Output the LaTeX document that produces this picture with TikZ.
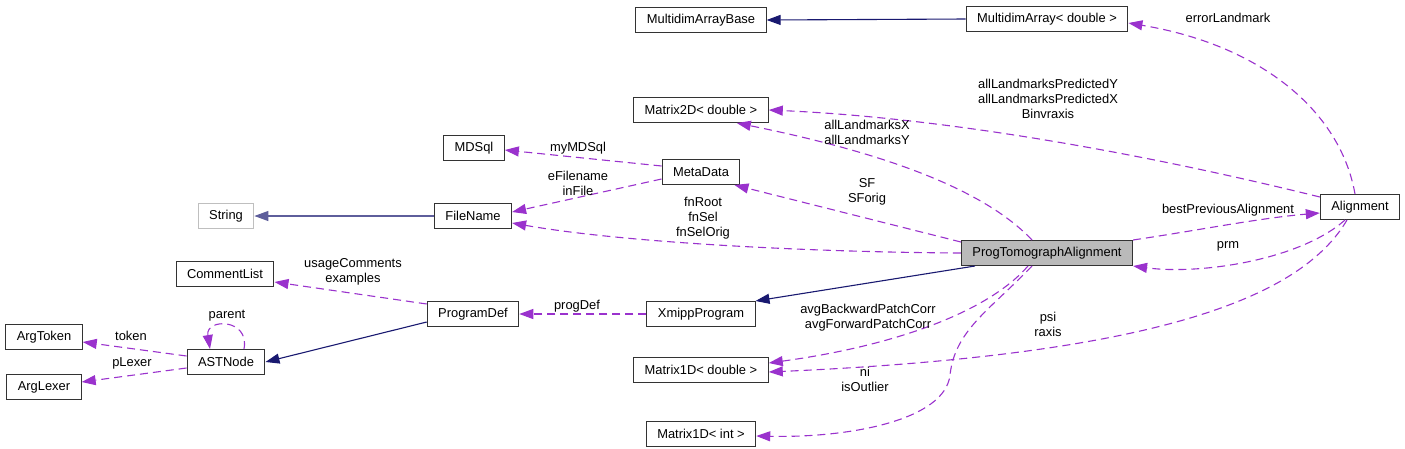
\documentclass[tikz,border=0pt]{standalone}
\usepackage{fontspec}
\setmainfont{Liberation Sans}
\usetikzlibrary{arrows.meta}

\definecolor{navyE}{HTML}{191970}
\definecolor{orchidE}{HTML}{9A32CD}

\begin{document}
\begin{tikzpicture}[
    x=1pt, y=-1pt,
    font=\fontsize{12.9}{15}\selectfont,
    cls/.style={draw=black!80, fill=white, line width=1pt, minimum height=25pt,
                inner xsep=11pt, inner ysep=2pt},
    clsG/.style={cls, draw=black!25},
    clsM/.style={cls, fill=black!27},
    inh/.style={-{Triangle[length=14pt, width=10pt]}, navyE, line width=1.1pt},
    use/.style={-{Triangle[length=14pt, width=10pt]}, orchidE, line width=1.1pt,
                dash pattern=on 8pt off 5pt},
    lbl/.style={align=center, inner sep=0pt},
  ]

  \useasboundingbox (0,0) rectangle (1405,448);

  %% ================================================================
  %% Classes
  %% ================================================================
  \node[cls]  (mab)   at (701,  20)  {MultidimArrayBase};
  \node[cls]  (mad)   at (1047, 19)  {MultidimArray< double >};
  \node[cls]  (m2d)   at (701, 110)  {Matrix2D< double >};
  \node[cls]  (mdsql) at (474, 148)  {MDSql};
  \node[cls]  (meta)  at (701, 172)  {MetaData};
  \node[clsG] (str)   at (226, 216)  {String};
  \node[cls]  (fname) at (473, 216)  {FileName};
  \node[cls]  (align) at (1360, 207) {Alignment};
  \node[clsM] (pta)   at (1047, 253) {ProgTomographAlignment};
  \node[cls]  (clist) at (225, 274)  {CommentList};
  \node[cls]  (pdef)  at (473, 314)  {ProgramDef};
  \node[cls]  (xprog) at (701, 314)  {XmippProgram};
  \node[cls]  (atok)  at (44, 337)   {ArgToken};
  \node[cls]  (ast)   at (226, 362)  {ASTNode};
  \node[cls]  (alex)  at (44, 387)   {ArgLexer};
  \node[cls]  (m1d)   at (701, 370)  {Matrix1D< double >};
  \node[cls]  (m1i)   at (701, 434)  {Matrix1D< int >};

  %% ================================================================
  %% Inheritance
  %% ================================================================
  \draw[inh] (mad.west) -- (mab.east);
  \draw[inh, navyE!70] (fname.west) -- (str.east);
  \draw[inh] (pta.south west) ++(14,0) -- (xprog.north east);
  \draw[inh] (pdef.south west) ++(0,-5) -- (ast.east);

  %% ================================================================
  %% Usage (members)
  %% ================================================================
  \draw[use] (align.north) ++(-5,0) .. controls (1340,110) and (1260,45) .. ([yshift=-4pt]mad.east);
  \draw[use] (align.west) ++(0,-10) .. controls (1150,155) and (950,118) .. (m2d.east);
  \draw[use] (pta.north) ++(-15,0) .. controls (980,185) and (870,150) .. ([xshift=-32pt]m2d.south east);
  \draw[use] (meta.west) ++(0,-6) -- ([yshift=-2pt]mdsql.east);
  \draw[use] (meta.south west) ++(0,-6) -- ([yshift=4pt]fname.east);
  \draw[use] (pta.north west) ++(0,2) -- ([xshift=-6pt]meta.south east);
  \draw[use] (pta.west) .. controls (800,252) and (620,242) .. ([yshift=-7pt]fname.east);
  \draw[use] (pta.north east) .. controls (1200,230) and (1260,218) .. ([yshift=-6pt]align.west);
  \draw[use] (align.south) ++(-15,0) .. controls (1300,260) and (1200,275) .. (pta.south east);
  \draw[use] (pdef.north west) ++(0,3) -- ([yshift=-8pt]clist.east);
  \draw[use] (xprog.west) -- (pdef.east);
  \draw[use] (ast.west) ++(0,-6) -- ([yshift=-5pt]atok.east);
  \draw[use] (ast.west) ++(0,6) -- ([yshift=5pt]alex.east);
  \draw[use] (ast.north) ++(18,0) .. controls (250,318) and (205,318) .. ([xshift=-16pt]ast.north);
  \draw[use] (pta.south) ++(-19,0) .. controls (990,310) and (900,345) .. ([yshift=7pt]m1d.east);
  \draw[use] (align.south) ++(-13,0) .. controls (1300,300) and (1150,355) .. ([yshift=-2pt]m1d.east);
  \draw[use] (pta.south) ++(-15,0) .. controls (990,310) and (955,330) .. (950,375)
    .. controls (945,420) and (850,438) .. ([yshift=-2pt]m1i.east);

  %% Member labels
  \node[lbl] (lErr)  at (1228, 18)  {errorLandmark};
  \node[lbl] (lPred) at (1048, 99)  {allLandmarksPredictedY\\allLandmarksPredictedX\\Binvraxis};
  \node[lbl] (lAllL) at (867, 132)  {allLandmarksX\\allLandmarksY};
  \node[lbl] (lSF)   at (867, 192)  {SF\\SForig};
  \node[lbl] (lFn)   at (703, 218)  {fnRoot\\fnSel\\fnSelOrig};
  \node[lbl] (lMDS)  at (578, 148)  {myMDSql};
  \node[lbl] (lEF)   at (578, 183)  {eFilename\\inFile};
  \node[lbl] (lUsg)  at (353, 272)  {usageComments\\examples};
  \node[lbl] (lPD)   at (577, 306)  {progDef};
  \node[lbl] (lPar)  at (227, 316)  {parent};
  \node[lbl] (lTok)  at (131, 336)  {token};
  \node[lbl] (lLex)  at (132, 363)  {pLexer};
  \node[lbl] (lBest) at (1228, 210) {bestPreviousAlignment};
  \node[lbl] (lPrm)  at (1228, 246) {prm};
  \node[lbl] (lAvg)  at (868, 318)  {avgBackwardPatchCorr\\avgForwardPatchCorr};
  \node[lbl] (lPsi)  at (1048, 324) {psi\\raxis};
  \node[lbl] (lNi)   at (865, 379)  {ni\\isOutlier};

\end{tikzpicture}
\end{document}
